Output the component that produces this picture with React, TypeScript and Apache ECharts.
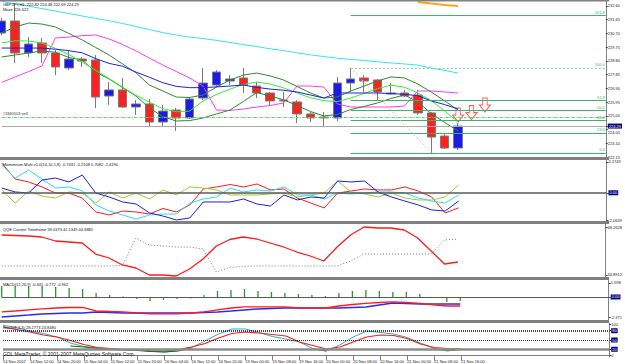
import React, { useEffect, useRef } from 'react';
import * as echarts from 'echarts';

// ---------- DATA ----------
const slotCount = 46; // 35 bars + empty future slots
const xLabels = ['14 Nov 2007', '14 Nov 12:00', '14 Nov 20:00', '15 Nov 04:00', '15 Nov 12:00', '15 Nov 20:00', '16 Nov 04:00', '16 Nov 12:00', '16 Nov 20:00', '19 Nov 00:00', '19 Nov 08:00', '19 Nov 16:00', '20 Nov 00:00', '20 Nov 08:00', '20 Nov 16:00', '21 Nov 00:00', '21 Nov 08:00', '21 Nov 16:00'];

const opens = [230.73, 231.56, 229.35, 230.04, 229.35, 228.31, 228.93, 228.86, 226.37, 226.79, 225.61, 225.82, 224.57, 225.40, 224.85, 226.23, 227.13, 227.41, 227.62, 227.06, 226.58, 226.09, 225.96, 225.13, 224.92, 224.85, 227.27, 227.62, 227.48, 226.51, 226.58, 226.44, 225.20, 223.60, 222.77];
const closes = [231.56, 229.35, 229.97, 229.35, 228.38, 228.93, 228.79, 226.30, 226.79, 225.61, 225.82, 224.57, 225.33, 224.85, 226.16, 227.27, 228.03, 227.55, 227.13, 226.58, 226.03, 226.03, 225.13, 224.85, 224.85, 227.27, 227.55, 227.41, 226.65, 226.58, 226.37, 225.20, 223.53, 222.77, 224.29];
const lows = [230.59, 228.66, 229.07, 228.66, 227.82, 228.17, 228.38, 225.54, 225.75, 225.54, 225.06, 224.23, 224.30, 223.95, 224.78, 226.09, 226.99, 227.13, 226.58, 226.23, 225.68, 225.61, 224.50, 224.57, 224.23, 224.64, 226.65, 226.65, 226.09, 226.44, 226.30, 225.06, 222.43, 222.70, 222.63];
const highs = [231.77, 232.81, 230.45, 230.39, 229.55, 229.55, 229.07, 229.21, 227.34, 227.62, 226.09, 226.16, 225.75, 225.54, 226.30, 228.31, 228.17, 227.82, 228.31, 227.34, 226.65, 226.65, 226.09, 225.26, 225.26, 227.69, 228.31, 227.82, 227.55, 227.27, 226.79, 226.79, 225.26, 223.81, 224.50];

const maCyan = [232.92, 232.75, 232.59, 232.42, 232.25, 232.08, 231.91, 231.74, 231.58, 231.39, 231.18, 230.97, 230.76, 230.59, 230.45, 230.35, 230.22, 230.08, 229.93, 229.79, 229.64, 229.51, 229.36, 229.22, 229.10, 228.99, 228.90, 228.83, 228.74, 228.66, 228.59, 228.51, 228.31, 228.14, 227.96];
const maMagenta = [227.31, 227.69, 228.06, 228.45, 230.39, 230.45, 230.55, 230.59, 230.32, 229.94, 229.49, 229.00, 228.52, 228.07, 227.62, 227.06, 225.40, 225.37, 225.47, 225.61, 225.71, 225.89, 227.06, 227.06, 226.99, 225.82, 225.61, 225.61, 225.61, 225.61, 225.68, 226.72, 226.72, 226.65, 226.58];
const maBlue = [229.69, 229.69, 229.69, 229.69, 229.61, 229.51, 229.36, 228.96, 228.63, 228.43, 228.03, 227.67, 227.29, 227.04, 226.95, 226.95, 227.00, 227.06, 227.13, 226.97, 226.85, 226.77, 226.65, 226.44, 226.23, 226.58, 226.58, 226.58, 226.58, 226.54, 226.49, 226.39, 226.03, 225.78, 225.47];
const bandMid = [230.04, 230.19, 230.18, 230.04, 229.67, 229.24, 228.72, 228.15, 227.58, 226.99, 226.42, 225.95, 225.49, 225.28, 225.33, 226.03, 226.47, 226.84, 227.17, 227.34, 227.20, 226.93, 226.58, 226.25, 226.05, 225.98, 226.23, 226.55, 226.88, 227.12, 226.98, 226.58, 226.05, 225.33, 224.57];
const bandUpper = [230.73, 231.15, 231.42, 231.35, 231.15, 230.70, 230.25, 229.73, 229.21, 228.59, 227.98, 227.13, 226.72, 226.30, 226.27, 226.44, 226.99, 227.48, 227.82, 227.96, 227.76, 227.48, 227.03, 226.58, 226.23, 226.30, 226.72, 227.06, 227.41, 227.69, 227.62, 227.20, 226.65, 226.03, 225.40];
const bandLower = [229.07, 229.21, 229.35, 229.49, 229.40, 229.04, 228.86, 228.03, 227.55, 226.96, 226.37, 225.54, 224.95, 224.64, 224.67, 224.85, 225.13, 225.40, 225.99, 226.61, 226.37, 226.11, 225.71, 225.30, 224.99, 225.09, 225.44, 225.65, 225.89, 226.20, 226.44, 225.96, 225.16, 224.54, 223.95];
const maOrange = [null, null, null, null, null, null, null, null, null, null, null, null, null, null, null, null, null, null, null, null, null, null, null, null, null, null, null, null, null, null, null, 232.88, 232.77, 232.67, 232.60];

const priceTicks = [232.60, 231.65, 230.70, 229.75, 228.80, 227.85, 226.90, 225.95, 225.00, 224.05, 223.10, 222.15];
const lastPrice = 224.29;
const orderPrice = 224.92;
const fibLevels = ['161.8', '100.0', '61.8', '50.0', '38.2', '23.6', '0.0'];
const fibPrices = [231.94, 228.31, 226.06, 225.37, 224.68, 223.82, 222.43];
const fibStartSlot = 26;
const trendFrom = [26, 228.31];
const trendTo = [32, 222.43];
const arrowSlots = [34, 35, 36];
const arrowPrices = [225.06, 225.22, 225.75];

const momRed = [2.20, 1.02, 0.80, 0.43, -0.02, -0.02, -0.39, -1.42, -1.64, -1.35, -1.42, -1.57, -1.16, -1.42, -0.90, 0.28, 0.43, 0.61, 0.43, 0.65, 0.21, 0.28, -0.39, -0.76, -1.12, -0.02, 0.13, 0.28, 0.21, 0.21, 0.43, 0.13, -0.31, -1.49, -1.12];
const momCyan = [2.05, 1.09, 1.68, 1.02, 0.35, 0.43, 0.13, -0.90, -1.35, -1.64, -1.94, -1.64, -1.57, -1.57, -0.76, -0.46, -0.31, 0.35, 0.06, 0.21, 0.13, 0.43, -0.16, -0.16, -0.46, -0.02, -0.09, -0.02, 0.06, 0.06, -0.02, -0.39, -0.61, -0.76, -0.16];
const momBlue = [0.35, 0.06, -0.02, 0.94, 1.09, 0.80, 1.31, -0.02, -0.31, -0.68, -0.83, -1.49, -1.72, -2.01, -1.86, -0.68, -0.68, -0.68, -0.46, -0.83, -0.98, -0.16, -0.53, -0.31, -0.39, 0.87, 0.80, 0.87, 0.06, -0.31, -0.61, -0.90, -1.27, -1.35, -0.61];
const momOlive = [0.21, -0.76, 0.13, -0.24, -0.39, 0.06, -0.02, -0.76, 0.06, -0.39, -0.02, -0.46, 0.21, -0.16, 0.43, 0.35, 0.21, -0.16, -0.16, -0.16, -0.09, -0.02, -0.31, -0.16, -0.02, 0.87, 0.06, -0.09, -0.31, -0.02, -0.39, -0.53, -0.53, -0.31, 0.58];

const qqeRsi = [62.70, 62.35, 62.01, 61.31, 58.53, 57.83, 57.14, 49.49, 46.71, 41.85, 39.76, 34.89, 34.89, 34.20, 39.07, 46.01, 55.05, 59.57, 61.31, 59.92, 57.14, 54.36, 50.88, 48.10, 44.63, 54.36, 62.70, 68.26, 67.57, 67.57, 66.18, 60.61, 51.58, 42.54, 43.93];
const qqeTrail = [41.15, 41.15, 41.15, 41.15, 41.15, 41.15, 41.15, 41.15, 41.15, 41.50, 60.61, 55.75, 55.05, 54.36, 54.36, 52.97, 36.98, 40.11, 40.80, 41.15, 41.15, 41.15, 41.15, 41.15, 41.15, 41.15, 44.63, 49.49, 49.49, 49.49, 49.49, 49.49, 49.49, 59.22, 59.92];

const macdHist = [1.26, 1.26, 1.26, 1.26, 1.14, 1.03, 0.91, 0.46, 0.23, 0.06, -0.23, -0.46, -0.34, -0.23, -0.17, 0.23, 0.69, 0.80, 0.91, 0.69, 0.57, 0.46, 0.34, 0.23, 0.11, 0.46, 0.69, 0.80, 0.69, 0.57, 0.57, 0.34, -0.11, -0.57, -0.46];
const macdRed = [-1.71, -1.60, -1.48, -1.37, -1.26, -1.20, -1.20, -1.60, -1.66, -1.71, -1.83, -1.94, -1.94, -1.94, -1.83, -1.71, -1.48, -1.26, -1.14, -1.14, -1.14, -1.14, -1.26, -1.26, -1.26, -1.03, -0.86, -0.74, -0.63, -0.57, -0.63, -0.74, -0.91, -1.03, -1.03];
const macdBlue = [-2.28, -2.17, -2.06, -1.94, -1.88, -1.83, -1.83, -1.71, -1.77, -1.83, -1.83, -1.83, -1.83, -1.83, -1.83, -1.77, -1.71, -1.60, -1.48, -1.37, -1.31, -1.26, -1.26, -1.26, -1.26, -1.26, -1.20, -1.14, -0.91, -0.69, -0.74, -0.80, -0.80, -0.80, -0.80];

const stTeal = [97.6, 90.4, 79.1, 71.0, 59.7, 40.3, 29.0, 24.1, 20.9, 19.2, 17.6, 13.4, 11.2, 16.0, 25.7, 46.8, 69.4, 85.6, 85.6, 74.3, 61.3, 53.2, 43.5, 22.5, 14.4, 33.8, 59.7, 79.1, 74.3, 69.4, 58.1, 40.3, 22.5, 14.4, 20.9];
const stRed = [92.1, 84.0, 75.9, 66.2, 59.7, 48.4, 35.4, 25.7, 22.5, 19.2, 17.6, 15.0, 14.4, 19.2, 27.3, 38.7, 56.5, 71.0, 75.9, 72.6, 67.8, 62.9, 43.5, 32.2, 20.9, 27.3, 43.5, 59.7, 66.2, 64.6, 54.8, 37.0, 25.7, 22.5, 20.9];
const stGreen = [null, null, null, null, null, 30.6, 27.3, 22.5, 19.2, 17.6, 16.0, 12.8, 11.2, 14.4, 24.1, null, null, null, null, null, null, null, null, 20.9, 14.4, null, null, null, null, null, null, null, 20.9, 16.0, 19.2];
const stLevels = [80, 50, 20];

// ---------- STYLE ----------
const FONT = 'Liberation Sans, Arial, sans-serif';
const GRAY = '#808080';
const FS = 4;

export default function App() {
  const ref = useRef<HTMLDivElement>(null);
  useEffect(() => {
    document.body.style.margin = '0';
    const chart = echarts.init(ref.current!, null, { renderer: 'svg' });
    const cats = Array.from({ length: slotCount }, (_, i) => String(i));
    const L = 1.7, R = 15.8;
    const grids = [
      { left: L, right: R, top: 1, height: 156 },
      { left: L, right: R, top: 160, height: 61 },
      { left: L, right: R, top: 224, height: 53 },
      { left: L, right: R, top: 280, height: 40 },
      { left: L, right: R, top: 323, height: 34 },
    ];
    const xAxes = grids.map((_, gi) => ({
      type: 'category', gridIndex: gi, data: cats, boundaryGap: false,
      axisLine: { show: gi === 4, lineStyle: { color: GRAY, width: 1 } },
      axisTick: {
        show: gi === 4, length: 5, lineStyle: { color: GRAY },
        interval: (i: number) => i % 2 === 0 && i / 2 < xLabels.length,
      },
      axisLabel: {
        show: gi === 4, interval: 0, align: 'left', margin: 2, fontSize: FS, color: '#222', fontFamily: FONT,
        formatter: (_v: string, i: number) => (i % 2 === 0 && i / 2 < xLabels.length ? xLabels[i / 2] : ''),
      },
      splitLine: { show: false },
    }));
    const mkY = (gi: number, min: number, max: number, ticks: number[], texts: string[], boxed: number[], lowered: number[] = []) => ({
      type: 'value', gridIndex: gi, position: 'right', min, max,
      splitLine: { show: false },
      axisLine: { show: true, lineStyle: { color: GRAY, width: 1 } },
      axisTick: { show: true, length: 2, customValues: ticks, lineStyle: { color: '#444' } },
      axisLabel: {
        customValues: ticks, margin: 2, fontSize: FS, color: '#222', fontFamily: FONT,
        formatter: (v: number) => {
          const k = ticks.findIndex((t) => Math.abs(t - v) < 1e-6);
          if (k < 0) return '';
          if (boxed.includes(k)) return `{box|${texts[k]}}`;
          if (lowered.includes(k)) return `{low|${texts[k]}}`;
          return texts[k];
        },
        rich: {
          box: { backgroundColor: '#000080', color: '#ffffff', fontSize: FS, fontFamily: FONT, padding: [0.5, 1] },
          low: { color: '#222', fontSize: FS, fontFamily: FONT, padding: [5, 0, 0, 0] },
        },
      },
    });
    const mainTicks = [...priceTicks, lastPrice];
    const yAxes = [
      mkY(0, 222.15, 232.946, mainTicks, mainTicks.map((v) => v.toFixed(2)), [mainTicks.length - 1], [priceTicks.indexOf(224.05)]),
      mkY(1, -2.0858, 2.4227, [2.2749, 0, -2.0649], ['2.2749', '0.00', '-2.0649'], [1]),
      mkY(2, 33.5, 70.35, [68.2628, 34.8912], ['68.2628', '34.8912'], []),
      mkY(3, -2.63, 1.94, [1.598, 0, -2.371], ['1.598', '0.00', '-2.371'], [1]),
      mkY(4, -5, 105, [100, 80, 50, 20, 0], ['100', '80', '50', '20', '0'], [1, 2, 3]),
    ];

    const line = (name: string, gi: number, data: (number | null)[], color: string, width = 1, type: any = 'solid', extra: any = {}) => ({
      name, type: 'line', xAxisIndex: gi, yAxisIndex: gi, data, symbol: 'none', silent: true,
      lineStyle: { color, width, type }, connectNulls: false, ...extra,
    });

    const fibMarks = fibPrices.map((p, k) => [
      {
        coord: [fibStartSlot, p],
        lineStyle: { color: k === 1 ? '#8fc8a8' : '#3cb371', width: 1, type: k === 1 ? [2, 2] : 'solid' },
        label: { show: true, position: 'insideEndTop', formatter: fibLevels[k], fontSize: FS, color: '#3cb371', fontFamily: FONT, distance: 1 },
      },
      { coord: [slotCount - 1, p] },
    ]);

    const series: any[] = [
      {
        type: 'candlestick', xAxisIndex: 0, yAxisIndex: 0, barWidth: 9, clip: false, silent: true,
        data: opens.map((o, i) => [o, closes[i], lows[i], highs[i]]),
        itemStyle: { color: '#1c1ce8', color0: '#ff2020', borderColor: '#7a7a7a', borderColor0: '#7a7a7a', borderWidth: 1 },
        markLine: {
          symbol: 'none', silent: true, animation: false,
          data: [
            { yAxis: lastPrice, lineStyle: { color: '#a8a8a8', width: 1, type: 'solid' }, label: { show: false } },
            {
              yAxis: orderPrice, lineStyle: { color: '#66cc66', width: 1, type: [3, 1, 1, 1] },
              label: { show: true, position: 'insideStartTop', formatter: '#1840503 sell', fontSize: FS, color: '#333', fontFamily: FONT, distance: 1 },
            },
            ...fibMarks,
            [
              { coord: trendFrom, lineStyle: { color: '#ffb0b0', width: 1, type: [2, 2] }, label: { show: false } },
              { coord: trendTo },
            ],
          ],
        },
      },
      line('cyan', 0, maCyan, '#33e4f2'),
      line('magenta', 0, maMagenta, '#ff3ce8'),
      line('orange', 0, maOrange, '#ffa31a', 2),
      line('upper', 0, bandUpper, '#2e8b2e'),
      line('lower', 0, bandLower, '#2e8b2e'),
      line('mid', 0, bandMid, '#33ee33'),
      line('blue', 0, maBlue, '#2020e0'),
      {
        type: 'scatter', xAxisIndex: 0, yAxisIndex: 0, silent: true,
        data: arrowSlots.map((s, i) => [s, arrowPrices[i]]),
        symbol: 'path://M3,0 L7,0 L7,6 L10,6 L5,12 L0,6 L3,6 Z', symbolSize: [11, 14],
        itemStyle: { color: '#ffffff', borderColor: '#ff3030', borderWidth: 1 },
      },
      line('momRed', 1, momRed, '#ff1a1a', 1, 'solid', {
        markLine: { symbol: 'none', silent: true, label: { show: false }, data: [{ yAxis: 0 }], lineStyle: { color: '#5a5a5a', width: 1.5, type: 'solid' } },
      }),
      line('momOlive', 1, momOlive, '#9acd32'),
      line('momCyan', 1, momCyan, '#22e0f0'),
      line('momBlue', 1, momBlue, '#1e1ee0'),
      line('qqeTrail', 2, qqeTrail, '#7a7a7a', 1, [1, 2]),
      line('qqeRsi', 2, qqeRsi, '#ff1a1a', 1.3),
      {
        type: 'bar', xAxisIndex: 3, yAxisIndex: 3, data: macdHist, barWidth: 1.3, silent: true,
        itemStyle: { color: '#2a962a' },
        markLine: { symbol: 'none', silent: true, label: { show: false }, data: [{ yAxis: 0 }], lineStyle: { color: '#5a5a5a', width: 1.2, type: 'solid' } },
      },
      line('macdBlue', 3, macdBlue, '#2a2af0', 1.5),
      line('macdRed', 3, macdRed, '#ff1a1a', 1.3),
      line('stTeal', 4, stTeal, '#2ab5a8', 1, 'solid', {
        markLine: {
          symbol: 'none', silent: true, label: { show: false },
          data: [
            { yAxis: stLevels[0], lineStyle: { color: '#000080', width: 1.5, type: [1, 1] } },
            { yAxis: stLevels[1], lineStyle: { color: '#333333', width: 1, type: [1, 1] } },
            { yAxis: stLevels[2], lineStyle: { color: '#8c8c8c', width: 2.5, type: 'solid' } },
          ],
        },
      }),
      line('stRed', 4, stRed, '#ff1a1a', 1.2),
      line('stGreen', 4, stGreen, '#0a6e0a', 1.2),
    ];

    const txt = (x: number, y: number, text: string, size = FS, fill = '#111') => ({
      type: 'text', x, y, silent: true, z: 100,
      style: { text, fontSize: size, fontFamily: FONT, fill, verticalAlign: 'top', align: 'left' },
    });
    const sep = (y: number, h: number) => ({ type: 'rect', silent: true, z: 90, shape: { x: 0, y, width: 609, height: h }, style: { fill: GRAY } });

    chart.setOption({
      animation: false,
      backgroundColor: '#ffffff',
      grid: grids,
      xAxis: xAxes,
      yAxis: yAxes,
      series,
      graphic: [
        sep(0, 1.5), sep(157, 3), sep(221, 3), sep(277, 3), sep(320, 3),
        txt(3, 2, 'GBPJPY,H4  222.82 224.48 222.69 224.29'),
        txt(3, 7, 'Maze 226.622'),
        txt(3, 162, 'Momentum Multi v1.0(14,10,1,8) -0.7431 -0.2108 0.7082 -1.4190'),
        txt(3, 227, 'QQE Current Timeframe 39.0373 42.1349 44.6885'),
        txt(3, 282, 'MACD(12,26,9) -0.341 -0.772 -0.962'),
        txt(3, 325, 'Stoch(8,3,3) 28.2773 24.8480'),
        txt(3, 351.5, 'GDL MetaTrader, © 2001-2007 MetaQuotes Software Corp.', 5, '#111'),
      ],
    });
    return () => chart.dispose();
  }, []);
  return <div ref={ref} style={{ width: 625, height: 364 }} />;
}
